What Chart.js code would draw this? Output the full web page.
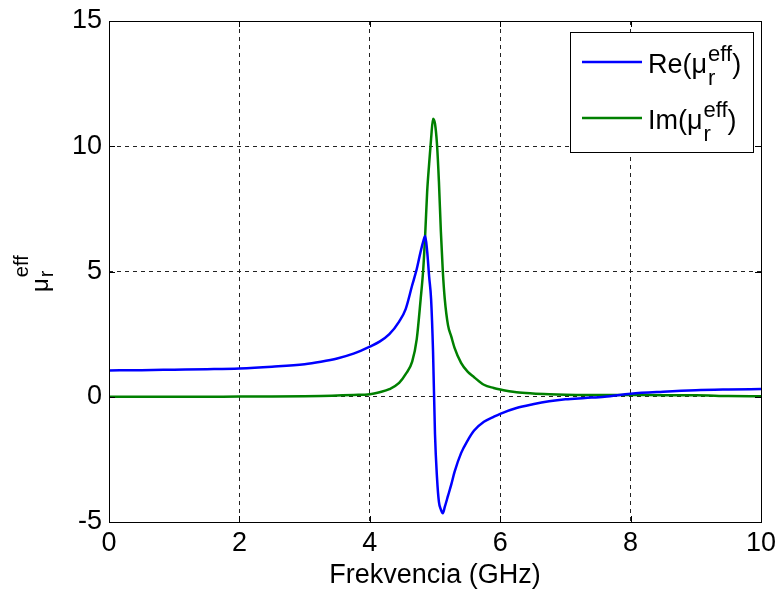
<!DOCTYPE html>
<html>
<head>
<meta charset="utf-8">
<script src="https://cdn.jsdelivr.net/npm/chart.js@4/dist/chart.umd.min.js"></script>
<style>
  html, body { margin: 0; padding: 0; background: #fff; }
  #wrap { width: 777px; height: 592px; }
</style>
</head>
<body>
<div id="wrap"><canvas id="chart" width="777" height="592"></canvas></div>
<script>
const FONT = '"Liberation Sans", Arial, sans-serif'

// frequency in GHz (denser round the resonance)
const freq = [
  0, 0.5, 1, 1.5, 2, 2.5, 3, 3.25, 3.5, 3.75,
  4, 4.15, 4.3, 4.45, 4.55, 4.65, 4.72, 4.78, 4.82, 4.85,
  4.88, 4.91, 4.94, 4.97, 5.0, 5.03, 5.06, 5.09, 5.12, 5.15,
  5.2, 5.25, 5.3, 5.4, 5.5, 5.6, 5.75, 5.9, 6.0, 6.25,
  6.5, 6.75, 7.0, 7.3, 7.6, 8.0, 8.5, 9.0, 9.5, 10
]

const reMu = [
  1.05, 1.06, 1.08, 1.10, 1.13, 1.20, 1.30, 1.40, 1.53, 1.72,
  2.0, 2.2, 2.5, 3.0, 3.5, 4.45, 5.1, 5.8, 6.2, 6.42,
  5.8, 4.8, 3.9, 1.8, -1.5, -3.2, -4.2, -4.5, -4.65, -4.4,
  -3.95, -3.5, -3.0, -2.25, -1.75, -1.35, -1.0, -0.8, -0.68, -0.45,
  -0.3, -0.18, -0.1, -0.05, 0.0, 0.12, 0.2, 0.26, 0.29, 0.31
]

const imMu = [
  0, 0, 0, 0, 0.01, 0.01, 0.02, 0.03, 0.05, 0.07,
  0.1, 0.18, 0.3, 0.55, 0.9, 1.4, 2.3, 3.9, 5.1, 6.5,
  8.2, 9.3, 10.3, 11.1, 10.9, 10.1, 8.6, 6.6, 5.0, 3.9,
  2.85, 2.4, 1.95, 1.35, 1.0, 0.78, 0.48, 0.35, 0.29, 0.18,
  0.13, 0.1, 0.08, 0.07, 0.07, 0.07, 0.06, 0.06, 0.03, 0.02
]

const seriesNames = ['Re', 'Im']
const seriesColors = ['#0000ff', '#008000']

function toPoints(ys) {
  return freq.map((f, i) => ({ x: f, y: ys[i] }))
}

// "Re(μ_r^eff)" style text, drawn left to right from x along baseline y
function drawMuText(ctx, x, y, prefix, size, small) {
  ctx.textAlign = 'left'
  ctx.textBaseline = 'alphabetic'
  ctx.font = `${size}px ${FONT}`
  const head = prefix + '(\u03bc'
  ctx.fillText(head, x, y)
  x += ctx.measureText(head).width
  ctx.font = `${small}px ${FONT}`
  ctx.fillText('eff', x + 1, y - size * 0.45)
  ctx.fillText('r', x + 1, y + size * 0.45)
  x += ctx.measureText('eff').width + 1
  ctx.font = `${size}px ${FONT}`
  ctx.fillText(')', x, y)
}

const matlabFrame = {
  id: 'matlabFrame',
  afterDatasetsDraw(chart) {
    const { ctx, chartArea: a, scales } = chart
    ctx.save()
    ctx.strokeStyle = '#000'
    ctx.lineWidth = 1
    ctx.beginPath()
    scales.x.ticks.forEach(t => {
      const px = Math.round(scales.x.getPixelForValue(t.value)) + 0.5
      ctx.moveTo(px, a.bottom); ctx.lineTo(px, a.bottom - 6)
      ctx.moveTo(px, a.top); ctx.lineTo(px, a.top + 6)
    })
    scales.y.ticks.forEach(t => {
      const py = Math.round(scales.y.getPixelForValue(t.value)) + 0.5
      ctx.moveTo(a.left, py); ctx.lineTo(a.left + 6, py)
      ctx.moveTo(a.right, py); ctx.lineTo(a.right - 6, py)
    })
    ctx.stroke()
    ctx.strokeRect(Math.round(a.left) + 0.5, Math.round(a.top) + 0.5,
      Math.round(a.right - a.left), Math.round(a.bottom - a.top))

    // legend box
    const lx = 570, ly = 32, lw = 183, lh = 120
    ctx.fillStyle = '#fff'
    ctx.fillRect(lx, ly, lw, lh)
    ctx.strokeRect(lx + 0.5, ly + 0.5, lw, lh)
    seriesNames.forEach((name, i) => {
      const y = 62 + i * 56
      ctx.strokeStyle = seriesColors[i]
      ctx.lineWidth = 2.5
      ctx.beginPath()
      ctx.moveTo(582, y); ctx.lineTo(642, y)
      ctx.stroke()
      ctx.fillStyle = '#000'
      drawMuText(ctx, 648, y + 11, name, 27, 22)
    })

    // rotated y-axis title: μ with subscript r and superscript eff
    ctx.translate(48, 292)
    ctx.rotate(-Math.PI / 2)
    ctx.fillStyle = '#000'
    ctx.font = `24px ${FONT}`
    ctx.textAlign = 'left'
    ctx.textBaseline = 'alphabetic'
    ctx.fillText('\u03bc', 0, 0)
    const mw = ctx.measureText('\u03bc').width
    ctx.font = `20px ${FONT}`
    ctx.fillText('eff', mw + 1, -20)
    ctx.fillText('r', mw + 1, 5)
    ctx.restore()
  }
}

const ctx = document.getElementById('chart').getContext('2d')

new Chart(ctx, {
  type: 'line',
  data: {
    datasets: [
      {
        label: 'Re',
        data: toPoints(reMu),
        borderColor: seriesColors[0],
        borderWidth: 2.5,
        pointRadius: 0,
        cubicInterpolationMode: 'monotone'
      },
      {
        label: 'Im',
        data: toPoints(imMu),
        borderColor: seriesColors[1],
        borderWidth: 2.5,
        pointRadius: 0,
        cubicInterpolationMode: 'monotone'
      }
    ]
  },
  options: {
    responsive: false,
    animation: false,
    layout: { padding: { top: 21, right: 16, left: 0, bottom: 0 } },
    plugins: {
      legend: { display: false },
      tooltip: { enabled: false }
    },
    scales: {
      x: {
        type: 'linear',
        min: 0,
        max: 10,
        afterFit(scale) {
          scale.height = 70
          scale.paddingLeft = 0
          scale.paddingRight = 0
        },
        ticks: {
          stepSize: 2,
          padding: 5,
          color: '#000',
          maxRotation: 0,
          font: { family: FONT, size: 27 }
        },
        grid: { color: '#222', lineWidth: 1, drawTicks: false },
        border: { display: false, dash: [4, 4] },
        title: {
          display: true,
          text: 'Frekvencia (GHz)',
          color: '#000',
          padding: { top: 0, bottom: 0 },
          font: { family: FONT, size: 27 }
        }
      },
      y: {
        min: -5,
        max: 15,
        afterFit(scale) {
          scale.width = 109
          scale.paddingTop = 0
          scale.paddingBottom = 0
        },
        ticks: {
          stepSize: 5,
          padding: 7,
          color: '#000',
          font: { family: FONT, size: 27 }
        },
        grid: { color: '#222', lineWidth: 1, drawTicks: false },
        border: { display: false, dash: [4, 4] }
      }
    }
  },
  plugins: [matlabFrame]
})
</script>
</body>
</html>
